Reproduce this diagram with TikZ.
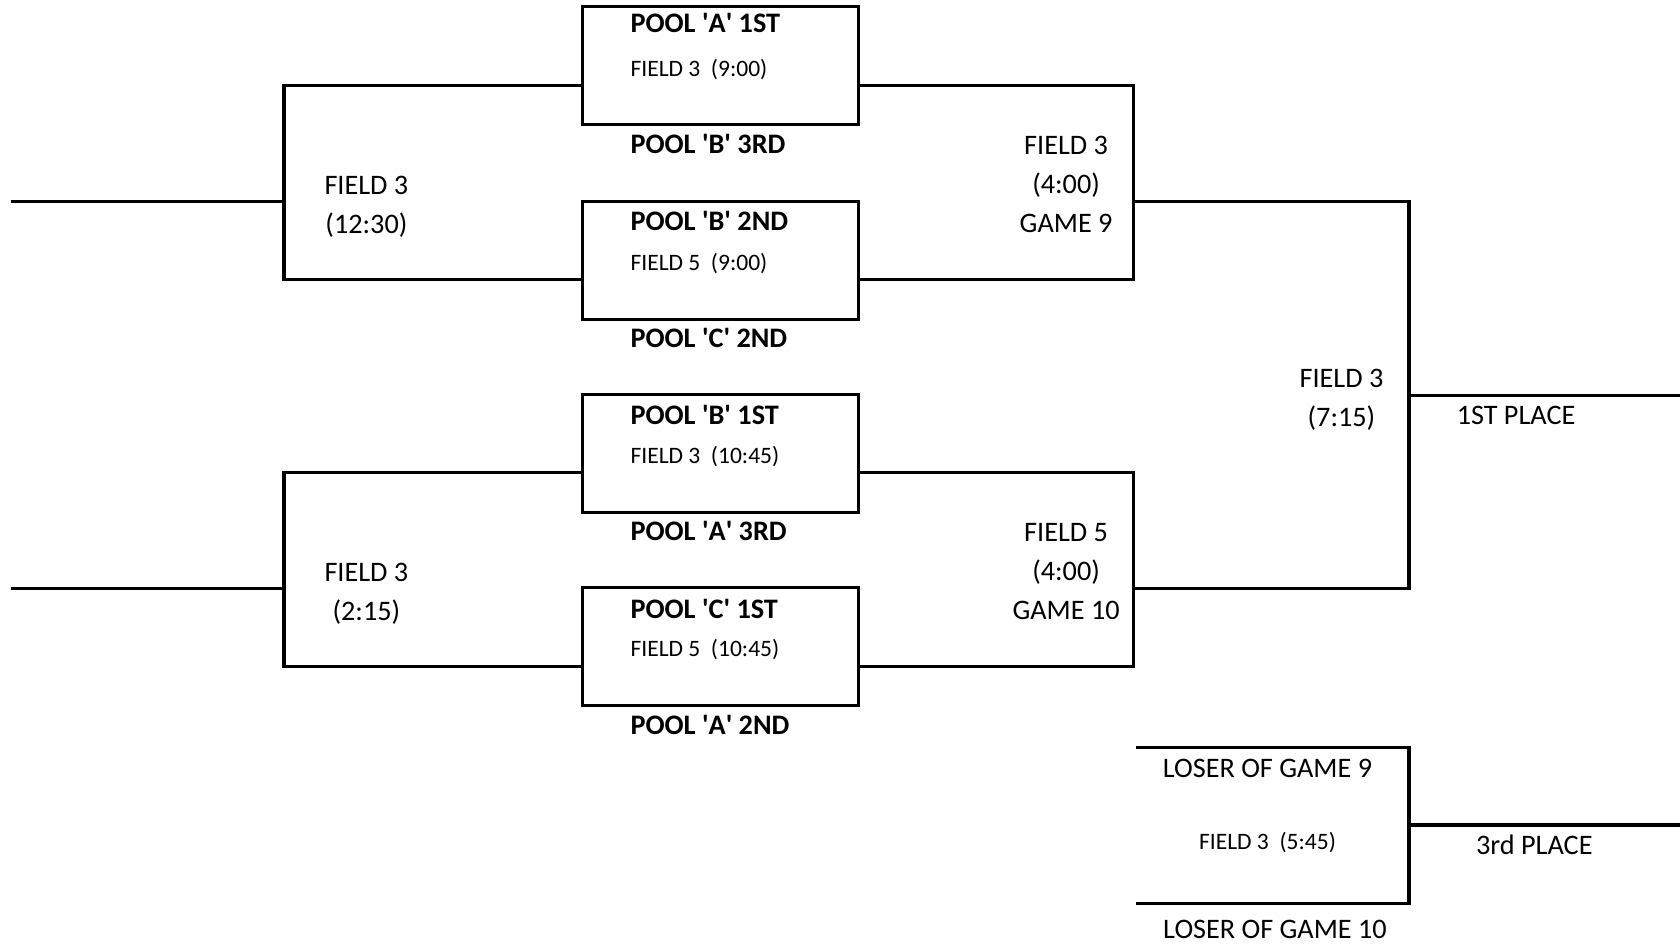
\documentclass[tikz,border=0pt]{standalone}
\usepackage{fontspec}
\setmainfont{Carlito}
\newcommand{\pool}[2]{POOL \textquotesingle#1\textquotesingle\ #2}
\tikzset{
  match/.style={draw,line width=1.7pt,minimum width=5.14cm,minimum height=2.2cm,inner sep=0pt},
  big/.style={font=\fontsize{15}{20.7}\selectfont,inner sep=0pt,align=center},
  bigb/.style={big,font=\fontsize{15}{20.7}\selectfont\bfseries},
  small/.style={font=\fontsize{12.5}{15}\selectfont,inner sep=0pt}
}
\begin{document}
\begin{tikzpicture}[x=0.02cm,y=-0.02cm,line width=1.7pt]
\useasboundingbox (0,0) rectangle (1568,883);
%		Matchs du premier tour :
\node[match] (m1) at (672.5,61) {};
\node[match] (m2) at (672.5,243) {};
\node[match] (m3) at (672.5,423) {};
\node[match] (m4) at (672.5,603.5) {};
%		Points des crochets :
\coordinate (l1) at (265,80);  \coordinate (l2) at (265,261);
\coordinate (l3) at (265,441); \coordinate (l4) at (265,622);
\coordinate (ls1) at (265,188); \coordinate (ls2) at (265,549);
\coordinate (e1) at (10,188);  \coordinate (e2) at (10,549);
\coordinate (r1) at (1058,80);  \coordinate (r2) at (1058,261);
\coordinate (r3) at (1058,441); \coordinate (r4) at (1058,622);
\coordinate (rs1) at (1058,188); \coordinate (rs2) at (1058,549);
\coordinate (f1) at (1315,188); \coordinate (f2) at (1315,549);
\coordinate (fs) at (1315,369); \coordinate (fe) at (1568,369);
\coordinate (c1) at (1060,698); \coordinate (c2) at (1315,698);
\coordinate (c3) at (1315,843); \coordinate (c4) at (1060,843);
\coordinate (cs) at (1315,770); \coordinate (ce) at (1568,770);
%		Tracé des crochets :
\draw (l1 -| m1.west) -- (l1) -- (l2) -- (l2 -| m2.west);
\draw (l3 -| m3.west) -- (l3) -- (l4) -- (l4 -| m4.west);
\draw (e1) -- (ls1);
\draw (e2) -- (ls2);
\draw (m1.east |- r1) -- (r1) -- (r2) -- (m2.east |- r2);
\draw (m3.east |- r3) -- (r3) -- (r4) -- (m4.east |- r4);
\draw (rs1) -- (f1) -- (f2) -- (rs2);
\draw (fs) -- (fe);
\draw (c1) -- (c2) -- (c3) -- (c4);
\draw (cs) -- (ce);
%		Textes des matchs :
\node[bigb,anchor=base west] (t1) at (587,30.5) {\pool{A}{1ST}};
\node[small,anchor=base west] (s1) at (587,71) {FIELD 3\ \ (9:00)};
\node[bigb,anchor=base west] (t2) at (587,143.5) {\pool{B}{3RD}};
\node[bigb,anchor=base west] (t3) at (587,215.5) {\pool{B}{2ND}};
\node[small,anchor=base west] (s2) at (587,252) {FIELD 5\ \ (9:00)};
\node[bigb,anchor=base west] (t4) at (587,324.5) {\pool{C}{2ND}};
\node[bigb,anchor=base west] (t5) at (587,396.5) {\pool{B}{1ST}};
\node[small,anchor=base west] (s3) at (587,433) {FIELD 3\ \ (10:45)};
\node[bigb,anchor=base west] (t6) at (587,504.5) {\pool{A}{3RD}};
\node[bigb,anchor=base west] (t7) at (587,577.5) {\pool{C}{1ST}};
\node[small,anchor=base west] (s4) at (587,613) {FIELD 5\ \ (10:45)};
\node[bigb,anchor=base west] (t8) at (587,685.5) {\pool{A}{2ND}};
%		Textes des tours suivants :
\node[big] (g1) at (342,193) {FIELD 3\\(12:30)};
\node[big] (g2) at (342,554.5) {FIELD 3\\(2:15)};
\node[big] (g9) at (995,172) {FIELD 3\\(4:00)\\GAME 9};
\node[big] (g10) at (995,533) {FIELD 5\\(4:00)\\GAME 10};
\node[big] (gf) at (1252,373) {FIELD 3\\(7:15)};
\node[big,anchor=base] (p1) at (1415,396.5) {1ST PLACE};
\node[big,anchor=base] (lo9) at (1183,725.5) {LOSER OF GAME 9};
\node[small,anchor=base] (s5) at (1183,793) {FIELD 3\ \ (5:45)};
\node[big,anchor=base] (lo10) at (1190,875.5) {LOSER OF GAME 10};
\node[big,anchor=base] (p3) at (1432,797.5) {3rd PLACE};
\end{tikzpicture}
\end{document}
